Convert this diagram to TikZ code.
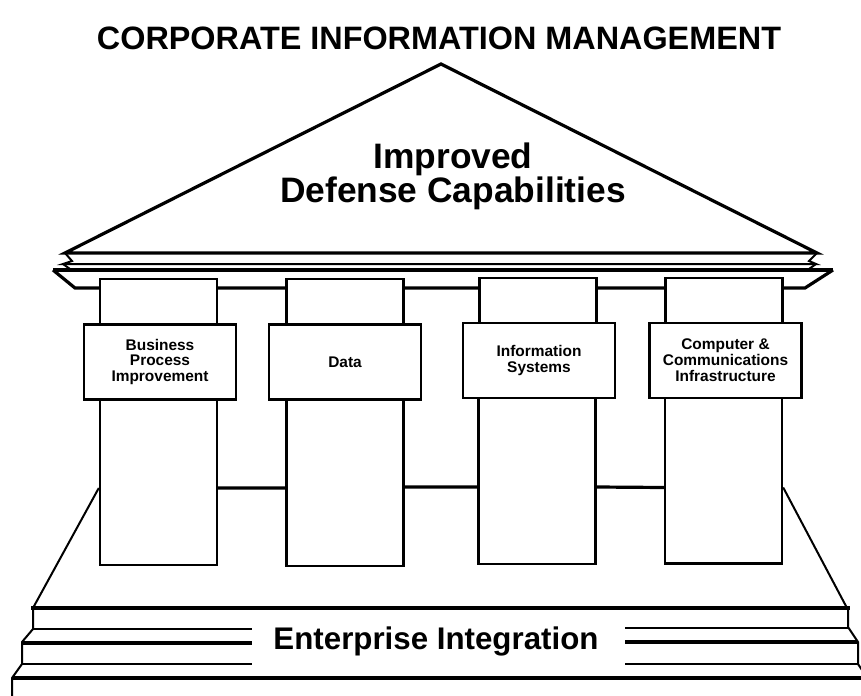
\documentclass[tikz,border=0pt]{standalone}
\usepackage{fontspec}
\setmainfont{Liberation Sans}
\usetikzlibrary{positioning}
\newcommand{\bfsz}[2]{\bfseries\fontsize{#1}{#2}\selectfont}

\tikzset{
  heavy/.style={line width=3.2bp},
  light/.style={line width=2bp},
  column/.style={draw, line width=2.4bp, fill=white, minimum width=117bp, inner sep=0},
  plaque/.style={draw, line width=2.4bp, fill=white, minimum width=152bp, minimum height=75bp,
    inner sep=0, align=center, font=\bfsz{15.5}{16}},
}

\begin{document}
\begin{tikzpicture}[x=1bp, y=-1bp, line join=miter]
    \useasboundingbox (0,0) rectangle (861,696);

    % title and roof
    \node[font=\bfsz{32.5}{31}] (title) at (439,38) {CORPORATE INFORMATION MANAGEMENT};
    \draw[heavy, fill=white] (65,253) -- (441,64) -- (817,253) -- cycle;
    \node[font=\bfsz{35.5}{31}, align=center] (roof) at (453,176) {Improved\\Defense Capabilities};

    % cornice
    \draw[light] (65,253) -- (72,261) -- (63,264) -- (816,264) -- (809,261) -- (817,253);
    \draw[light] (63,264) -- (70,269);
    \draw[light] (816,264) -- (809,269);
    \draw[heavy] (53,270) -- (833,270);
    \draw[heavy] (53,270) -- (75,288) -- (805,288) -- (833,270);

    % columns
    \node[column, minimum height=46bp] (c1) at (158.5,302) {};
    \node[column, minimum height=46bp] (c2) at (345,302) {};
    \node[column, minimum height=46bp] (c3) at (538,301) {};
    \node[column, minimum height=46bp] (c4) at (724,301) {};
    \node[column, minimum height=166bp] (s1) at (158.5,482) {};
    \node[column, minimum height=166bp] (s2) at (345,483) {};
    \node[column, minimum height=166bp] (s3) at (537,481) {};
    \node[column, minimum height=166bp] (s4) at (723.5,480.5) {};

    \node[plaque] (bpi) at (160,362) {Business\\Process\\Improvement};
    \node[plaque] (data) at (345,362) {Data};
    \node[plaque] (infosys) at (539,360.5) {Information\\Systems};
    \node[plaque] (cci) at (725.5,360.5) {Computer \&\\Communications\\Infrastructure};

    % back wall
    \draw[heavy] ([yshift=-6bp]s1.east) -- ([yshift=-5bp]s2.west);
    \draw[heavy] ([yshift=-4bp]s2.east) -- ([yshift=-6bp]s3.west);
    \draw[heavy] ([yshift=-6bp]s3.east) -- ([yshift=-7bp]s4.west);

    % steps
    \coordinate (wl) at ([yshift=-6bp]s1.west);
    \coordinate (wr) at ([yshift=-7bp]s4.east);
    \draw[light] (wl) -- (33,608);
    \draw[light] (wr) -- (847,608);
    \node[font=\bfsz{31.4}{31}] (base) at (436,641) {Enterprise Integration};
    \draw[line width=3.8bp] (31,608) -- (850,608);
    \draw[light] (33,608) -- (33,629) -- (22,642) -- (22,664) -- (12,678) -- (12,696);
    \draw[light] (848,608) -- (848,627) -- (858,642) -- (858,664) -- (866,676);
    \draw[light] (33,629) -- (252,629);
    \draw[light] (625,628) -- (848,628);
    \draw[heavy] (22,643) -- (252,643);
    \draw[heavy] (625,642) -- (858,642);
    \draw[light] (22,664) -- (252,664);
    \draw[light] (625,664) -- (858,664);
    \draw[line width=3.8bp] (12,678) -- (861,678);
\end{tikzpicture}
\end{document}
